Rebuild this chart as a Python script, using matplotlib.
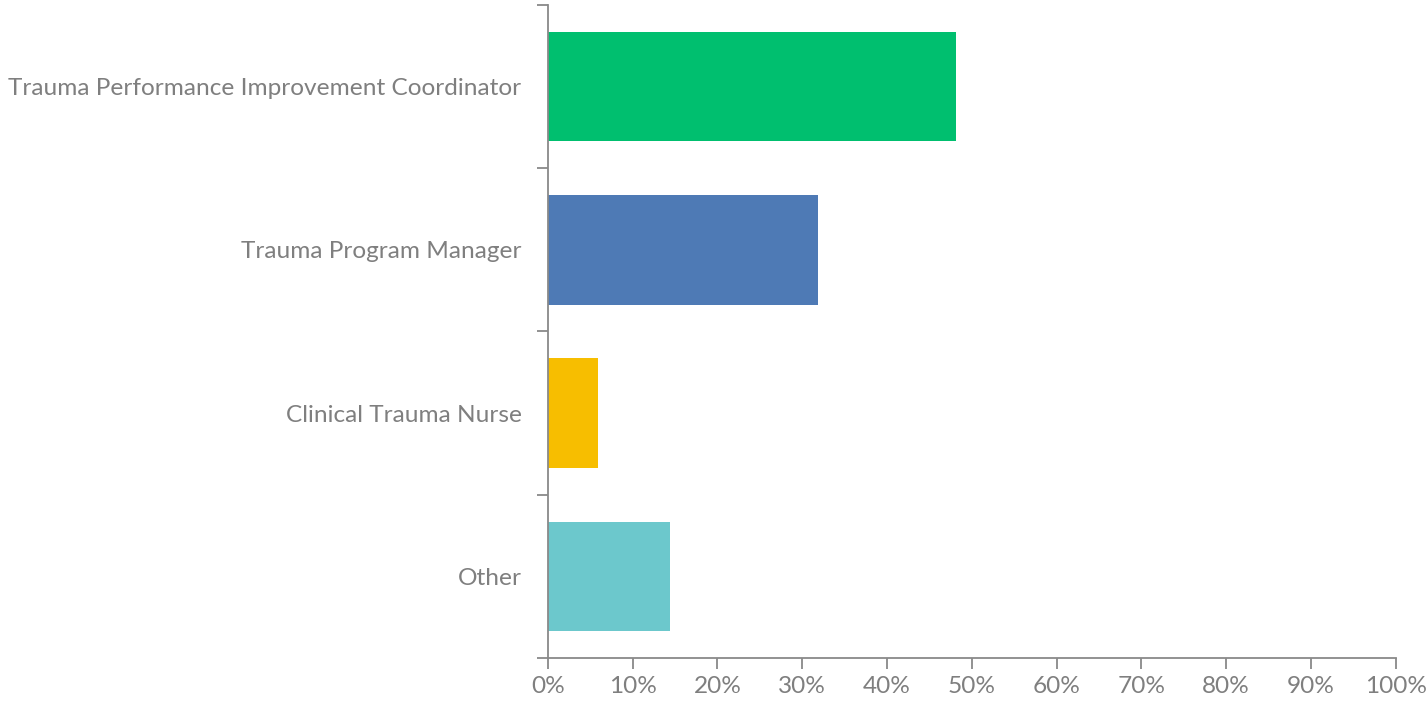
import numpy as np
import matplotlib.pyplot as plt

# datos
categorias = ['Trauma Performance Improvement Coordinator', 'Trauma Program Manager',
              'Clinical Trauma Nurse', 'Other']
valores = [48.1, 31.8, 5.9, 14.4]
colores = ['#00BF6F', '#4E7AB5', '#F7BE00', '#6CC8CC']
xticks = np.arange(0, 101, 10)

gris = '#7F7F7F'
plt.rcParams['font.family'] = ['Lato', 'DejaVu Sans']

fig = plt.figure(figsize=(14.27, 7.03), dpi=100)
ax = fig.add_axes([0.384, 0.064, 0.594, 0.929])

y = np.arange(len(categorias))
ax.barh(y, valores, height=0.67, color=colores)
ax.set_ylim(len(categorias) - 0.5, -0.5)
ax.set_xlim(0, 100)

ax.set_yticks(y)
ax.set_yticklabels(categorias)
ax.set_yticks(np.arange(len(categorias) + 1) - 0.5, minor=True)
ax.tick_params(axis='y', which='major', length=0, pad=19, labelsize=17.6, labelcolor=gris)
ax.tick_params(axis='y', which='minor', length=8, width=1.3, color='#898989')

ax.set_xticks(xticks)
ax.set_xticklabels([f'{v}%' for v in xticks])
ax.tick_params(axis='x', length=8, width=1.3, color='#898989', labelsize=17.6, labelcolor=gris, pad=5)

for lado in ['top', 'right']:
    ax.spines[lado].set_visible(False)
for lado in ['left', 'bottom']:
    ax.spines[lado].set_color('#898989')
    ax.spines[lado].set_linewidth(1.3)

fig.savefig('out.png', dpi=100)
